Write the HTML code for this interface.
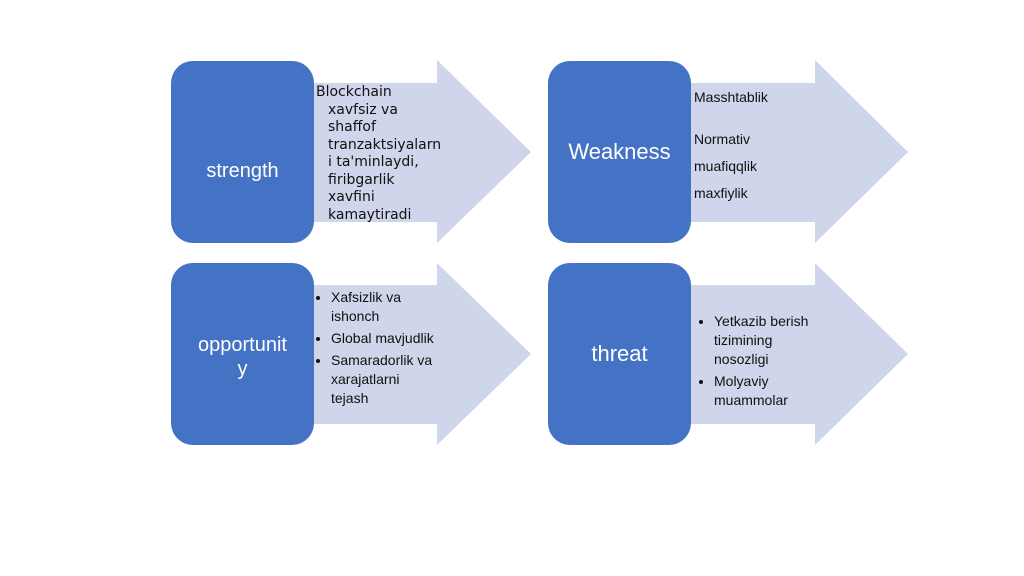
<!DOCTYPE html>
<html><head><style>
body{margin:0;width:1024px;height:576px;background:#fff;position:relative;overflow:hidden;font-family:"Liberation Sans",sans-serif}
.box{position:absolute;width:143px;height:182px;background:#4472C4;border-radius:22px;color:#fff;font-size:20px;display:flex;align-items:center;justify-content:center;text-align:center;box-sizing:border-box}
svg{position:absolute;left:0;top:0}
.t{position:absolute;font-size:14px;color:#111;line-height:18px}
ul{margin:0;padding-left:18px}
li{margin-bottom:3px}
</style></head><body>
<svg width="1024" height="576">
<g fill="#CFD5EA">
<polygon points="300,83 437,83 437,60 531,152 437,243 437,222 300,222"/>
<polygon points="680,83 815,83 815,60 908,152 815,243 815,222 680,222"/>
<polygon points="300,285 437,285 437,263 531,354 437,445 437,424 300,424"/>
<polygon points="680,285 815,285 815,263 908,354 815,445 815,424 680,424"/>
</g></svg>
<div class="box" style="left:171px;top:61px;padding-top:38px">strength</div>
<div class="box" style="left:548px;top:61px;font-size:22px">Weakness</div>
<div class="box" style="left:171px;top:263px;line-height:24px;padding-top:6px">opportunit<br>y</div>
<div class="box" style="left:548px;top:263px;font-size:22px">threat</div>
<div class="t" style="left:316px;top:84px;font-family:'DejaVu Sans',sans-serif;font-size:14px;line-height:17.5px">Blockchain<div style="padding-left:12px">xavfsiz va<br>shaffof<br>tranzaktsiyalarn<br>i ta'minlaydi,<br>firibgarlik<br>xavfini<br>kamaytiradi</div></div>
<div class="t" style="left:694px;top:88px">Masshtablik</div>
<div class="t" style="left:694px;top:130px">Normativ</div>
<div class="t" style="left:694px;top:157px">muafiqqlik</div>
<div class="t" style="left:694px;top:184px">maxfiylik</div>
<div class="t" style="left:313px;top:288px;width:125px;line-height:19px"><ul><li>Xafsizlik va ishonch</li><li>Global mavjudlik</li><li>Samaradorlik va xarajatlarni tejash</li></ul></div>
<div class="t" style="left:696px;top:312px;width:115px;line-height:19px"><ul><li>Yetkazib berish tizimining nosozligi</li><li>Molyaviy muammolar</li></ul></div>
</body></html>
